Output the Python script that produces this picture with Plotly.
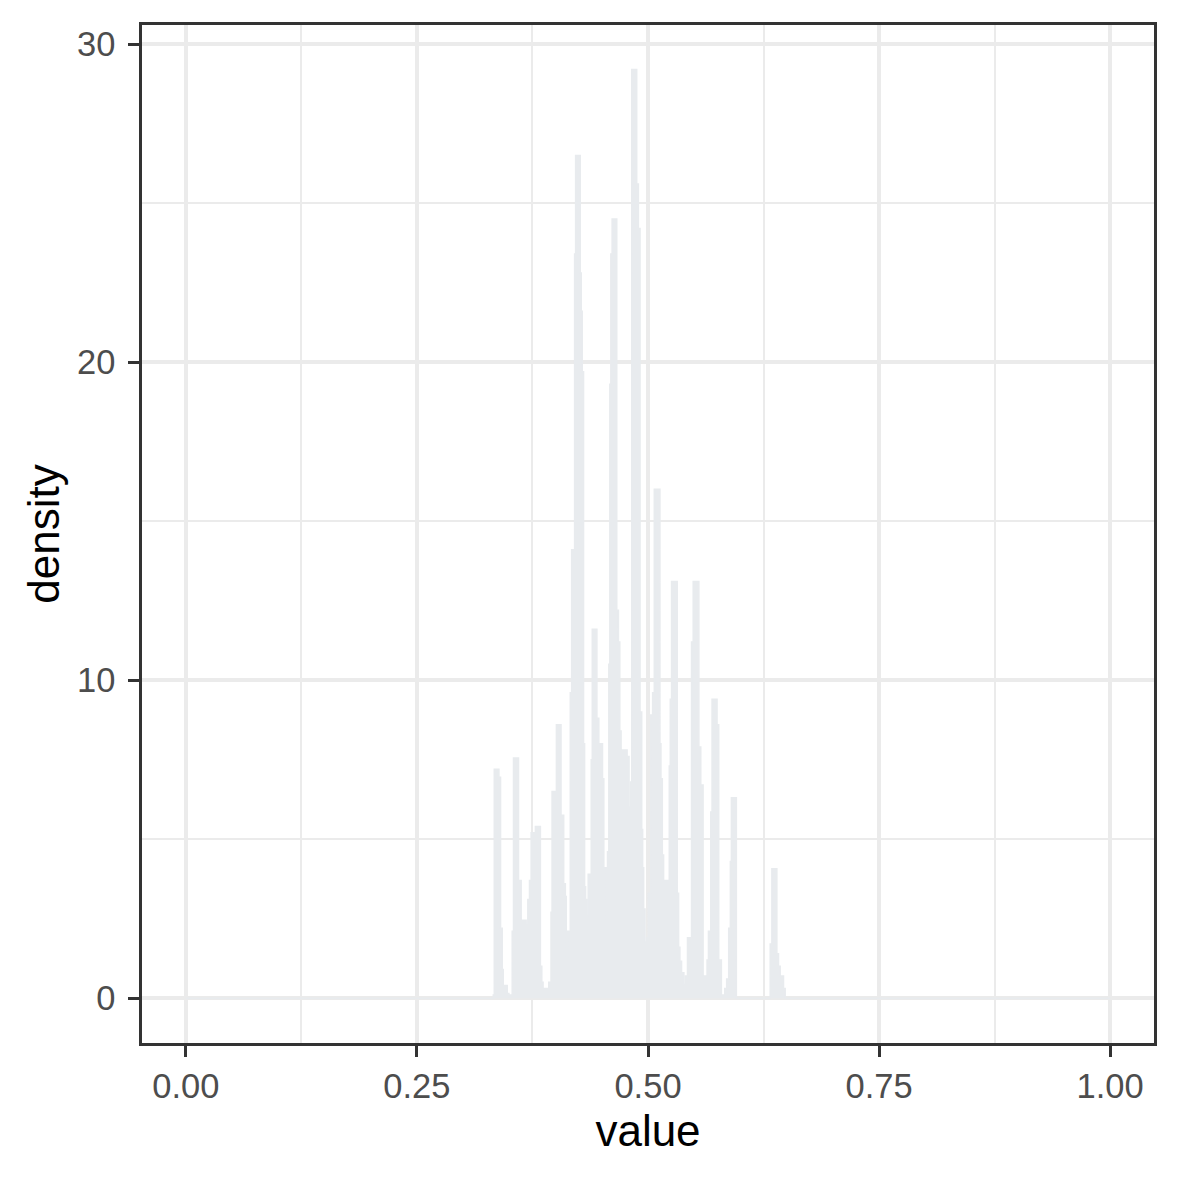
import plotly.graph_objects as go

# step start positions (value) and density heights
step_x = [0.0, 0.3326, 0.3337, 0.3387, 0.3405, 0.3423, 0.3434, 0.3477, 0.3495, 0.3531, 0.3545,
          0.3599, 0.3628, 0.3682, 0.3700, 0.3718, 0.3736, 0.3782, 0.3836, 0.3851, 0.3865,
          0.3926, 0.3951, 0.3962, 0.4009, 0.4059, 0.4088, 0.4106, 0.4116, 0.4131, 0.4159,
          0.4174, 0.4206, 0.4217, 0.4267, 0.4278, 0.4289, 0.4303, 0.4314, 0.4325, 0.4336,
          0.4353, 0.4386, 0.4397, 0.4447, 0.4468, 0.4508, 0.4522, 0.4547, 0.4562, 0.4576,
          0.4587, 0.4598, 0.4612, 0.4662, 0.4680, 0.4695, 0.4709, 0.4723, 0.4774, 0.4795,
          0.4813, 0.4824, 0.4878, 0.4896, 0.4914, 0.4932, 0.4942, 0.4953, 0.4968, 0.4986,
          0.5004, 0.5029, 0.5050, 0.5068, 0.5129, 0.5140, 0.5155, 0.5169, 0.5230, 0.5241,
          0.5255, 0.5316, 0.5331, 0.5345, 0.5363, 0.5388, 0.5406, 0.5427, 0.5471, 0.5489,
          0.5550, 0.5571, 0.5596, 0.5625, 0.5639, 0.5654, 0.5679, 0.5693, 0.5747, 0.5765,
          0.5794, 0.5830, 0.5851, 0.5873, 0.5891, 0.5902, 0.5956, 0.6322, 0.6340, 0.6394,
          0.6412, 0.6430, 0.6466, 0.6484, 1.0]
density = [0.0, 0.1, 7.2, 6.95, 2.2, 0.9, 0.4, 0.15, 0.1, 2.1, 7.55,
           3.7, 2.45, 2.3, 3.1, 3.7, 5.2, 5.4, 1.0, 0.5, 0.3,
           0.5, 2.7, 6.5, 8.6, 5.75, 3.6, 3.2, 1.3, 2.1, 9.6,
           14.1, 23.4, 26.5, 22.8, 21.6, 19.7, 8.0, 3.5, 3.1, 2.6,
           3.9, 7.5, 11.6, 8.8, 8.0, 6.9, 4.1, 2.4, 4.6, 10.5,
           19.3, 23.4, 24.5, 12.2, 11.2, 8.4, 6.5, 7.8, 7.6, 6.0,
           6.8, 29.2, 25.6, 24.2, 9.0, 5.3, 4.1, 2.8, 1.76, 1.9,
           3.3, 8.9, 9.6, 16.0, 8.0, 6.9, 4.5, 3.7, 7.3, 9.4,
           13.1, 3.3, 1.6, 1.16, 0.8, 0.43, 0.7, 1.9, 11.2, 13.1,
           7.9, 6.7, 0.7, 0.3, 1.2, 2.1, 5.85, 9.4, 8.6, 1.2,
           0.1, 0.3, 0.6, 2.2, 4.3, 6.3, 0.0, 1.7, 4.07, 1.4,
           1.0, 0.7, 0.3, 0.0, 0.0]

x_ticks = [0.0, 0.25, 0.5, 0.75, 1.0]
x_labels = ["0.00", "0.25", "0.50", "0.75", "1.00"]
y_ticks = [0, 10, 20, 30]

FILL = "#E8EBEE"
FONT = "Liberation Sans, Arial, Helvetica, sans-serif"

fig = go.Figure()
fig.add_trace(go.Scatter(
    x=step_x, y=density, mode="lines", line_shape="hv",
    line=dict(color=FILL, width=1.5), fill="tozeroy", fillcolor=FILL,
    hoverinfo="skip", showlegend=False,
))

axis_common = dict(
    showline=True, mirror=True, linecolor="#333333", linewidth=2.5,
    ticks="outside", ticklen=11, tickwidth=2.5, tickcolor="#333333",
    showgrid=True, gridcolor="#EBEBEB", gridwidth=3.5,
    zeroline=False,
    tickfont=dict(family=FONT, size=34.5, color="#4D4D4D"),
    title_font=dict(family=FONT, size=44, color="#000000"),
)

fig.update_xaxes(
    range=[-0.0474, 1.0474], tickvals=x_ticks, ticktext=x_labels,
    minor=dict(dtick=0.125, tick0=0.125, showgrid=True, gridcolor="#EBEBEB", gridwidth=1.8, ticks=""),
    title_text="value", title_standoff=12, **axis_common,
)
fig.update_yaxes(
    range=[-1.41, 30.6], tickvals=y_ticks,
    minor=dict(dtick=5, tick0=5, showgrid=True, gridcolor="#EBEBEB", gridwidth=1.8, ticks=""),
    title_text="density", title_standoff=4, ticklabelstandoff=6, **axis_common,
)

fig.update_layout(
    width=1180, height=1180,
    margin=dict(l=134, r=34, t=17, b=145),
    paper_bgcolor="white", plot_bgcolor="white",
    font=dict(family=FONT),
)

fig.write_html("out.html")
